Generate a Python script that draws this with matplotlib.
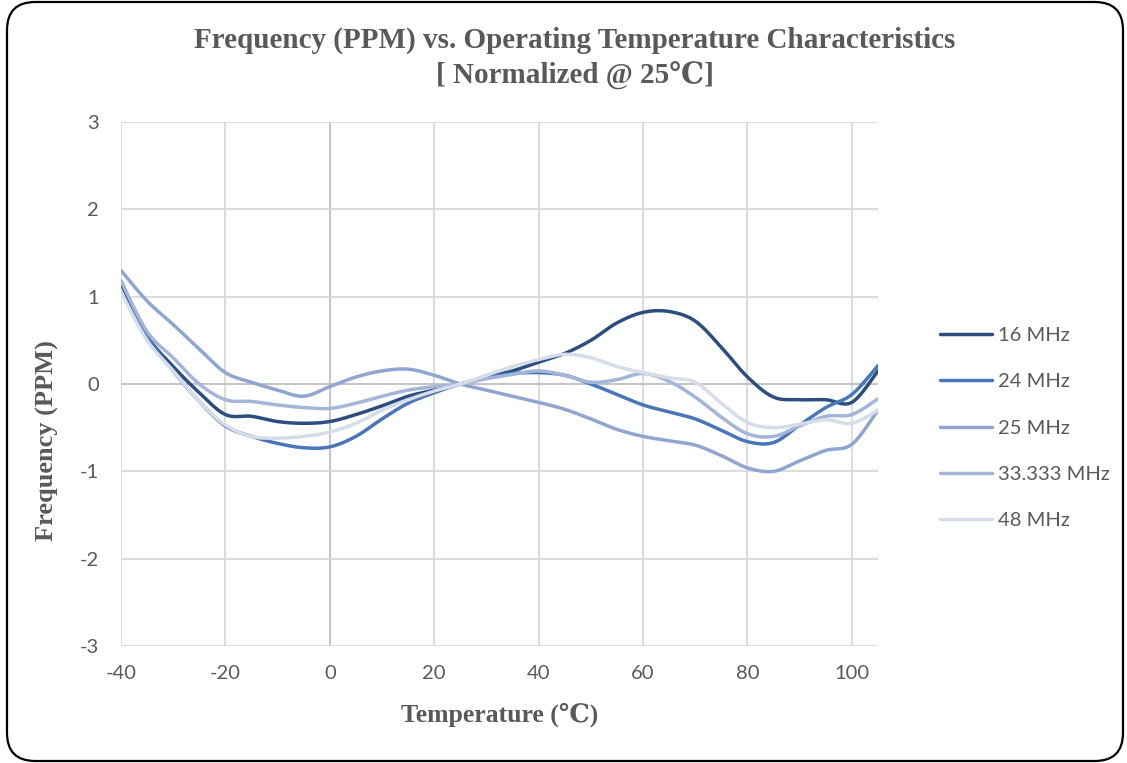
import numpy as np
import matplotlib.pyplot as plt
from matplotlib.patches import FancyBboxPatch

temps = list(range(-40, 110, 5))
freq_16 = [1.15, 0.55, 0.2, -0.1, -0.35, -0.37, -0.43, -0.45, -0.43, -0.35,
           -0.25, -0.14, -0.07, 0.0, 0.08, 0.15, 0.25, 0.35, 0.5, 0.7,
           0.82, 0.83, 0.72, 0.42, 0.08, -0.15, -0.18, -0.18, -0.21, 0.15]
freq_24 = [1.18, 0.55, 0.15, -0.2, -0.48, -0.6, -0.68, -0.73, -0.72, -0.6,
           -0.4, -0.22, -0.1, 0.0, 0.07, 0.12, 0.13, 0.1, 0.0, -0.12,
           -0.24, -0.32, -0.4, -0.53, -0.66, -0.67, -0.47, -0.27, -0.12, 0.21]
freq_25 = [1.3, 0.95, 0.68, 0.4, 0.13, 0.02, -0.07, -0.14, -0.03, 0.08,
           0.15, 0.17, 0.1, 0.0, -0.07, -0.14, -0.21, -0.29, -0.4, -0.52,
           -0.6, -0.65, -0.7, -0.82, -0.96, -1.0, -0.88, -0.76, -0.69, -0.3]
freq_33 = [1.18, 0.6, 0.3, 0.0, -0.18, -0.2, -0.24, -0.27, -0.28, -0.22,
           -0.14, -0.07, -0.03, 0.0, 0.06, 0.11, 0.15, 0.1, 0.02, 0.05,
           0.12, 0.03, -0.15, -0.38, -0.57, -0.6, -0.48, -0.37, -0.35, -0.17]
freq_48 = [1.05, 0.5, 0.15, -0.2, -0.47, -0.6, -0.62, -0.6, -0.55, -0.45,
           -0.3, -0.18, -0.08, 0.0, 0.1, 0.2, 0.28, 0.34, 0.3, 0.2,
           0.13, 0.07, 0.02, -0.22, -0.44, -0.5, -0.46, -0.41, -0.45, -0.3]

labels = ['16 MHz', '24 MHz', '25 MHz', '33.333 MHz', '48 MHz']
series = [freq_16, freq_24, freq_25, freq_33, freq_48]
colors = ['#2c4e7e', '#4876b8', '#8ea6d0', '#a3b5d8', '#d5dde9']


def smooth(x, y, n=20):
    # catmull-rom style bezier, like excel's smoothed line
    x = np.asarray(x, float)
    y = np.asarray(y, float)
    px = np.concatenate([[x[0]], x, [x[-1]]])
    py = np.concatenate([[y[0]], y, [y[-1]]])
    xs, ys = [], []
    t = np.linspace(0, 1, n, endpoint=False)
    for i in range(1, len(px) - 2):
        p0 = np.array([px[i], py[i]])
        p3 = np.array([px[i + 1], py[i + 1]])
        p1 = p0 + (p3 - np.array([px[i - 1], py[i - 1]])) / 6
        p2 = p3 - (np.array([px[i + 2], py[i + 2]]) - p0) / 6
        pts = ((1 - t) ** 3)[:, None] * p0 + (3 * (1 - t) ** 2 * t)[:, None] * p1 \
            + (3 * (1 - t) * t ** 2)[:, None] * p2 + (t ** 3)[:, None] * p3
        xs.extend(pts[:, 0])
        ys.extend(pts[:, 1])
    xs.append(x[-1])
    ys.append(y[-1])
    return xs, ys


plt.rcParams['axes.unicode_minus'] = False
fig = plt.figure(figsize=(11.27, 7.63), dpi=100)
ax = fig.add_axes([121 / 1127, 1 - 646 / 763, (878 - 121) / 1127, (646 - 122) / 763])

for vals, lab, col in zip(series, labels, colors):
    sx, sy = smooth(temps, vals)
    ax.plot(sx, sy, color=col, lw=2.5, label=lab, solid_capstyle='round', zorder=3)

ax.set_xlim(-40, 105)
ax.set_ylim(-3, 3)
ax.set_xticks(range(-40, 101, 20))
ax.set_yticks(range(-3, 4))
for x in range(-40, 101, 20):
    ax.axvline(x, color='#bfbfbf' if x == 0 else '#d9d9d9', lw=1.3, zorder=1)
for y in range(-3, 4):
    ax.axhline(y, color='#bfbfbf' if y == 0 else '#d9d9d9', lw=1.3, zorder=1)
for s in ax.spines.values():
    s.set_visible(False)
ax.tick_params(length=0, labelsize=14.5, labelcolor='#595959')
ax.tick_params(axis='x', pad=14)
ax.tick_params(axis='y', pad=16)
for t in ax.get_xticklabels() + ax.get_yticklabels():
    t.set_family('Lato')

fig.text(575 / 1127, 1 - 40 / 763, 'Frequency (PPM) vs. Operating Temperature Characteristics',
         ha='center', va='center', family='Liberation Serif', weight='bold', size=21, color='#595959')
fig.text(575 / 1127, 1 - 75 / 763, '[ Normalized @ 25\u2103]',
         ha='center', va='center', family=['Liberation Serif', 'DejaVu Serif'], weight='bold', size=21, color='#595959')
fig.text(500 / 1127, 1 - 715 / 763, 'Temperature (\u2103)', ha='center', va='center',
         family=['Liberation Serif', 'DejaVu Serif'], weight='bold', size=18.5, color='#595959')
fig.text(47 / 1127, 1 - 441 / 763, 'Frequency (PPM)', ha='center', va='center', rotation=90,
         family='Liberation Serif', weight='bold', size=19, color='#595959')

leg = fig.legend(loc='center left', bbox_to_anchor=(940 / 1127, 1 - 428 / 763), frameon=False,
                 borderpad=0, borderaxespad=0, handlelength=2.6, handletextpad=0.3,
                 labelspacing=1.45, prop={'family': 'Lato', 'size': 14.5})
for t in leg.get_texts():
    t.set_color('#595959')

border = FancyBboxPatch((7 / 1127, 2 / 763), 1116 / 1127, 759 / 763,
                        boxstyle='round,pad=0,rounding_size=0.025', mutation_aspect=1127 / 763,
                        transform=fig.transFigure, fill=False, ec='black', lw=1.6)
fig.patches.append(border)

fig.savefig('out.png', dpi=100)
